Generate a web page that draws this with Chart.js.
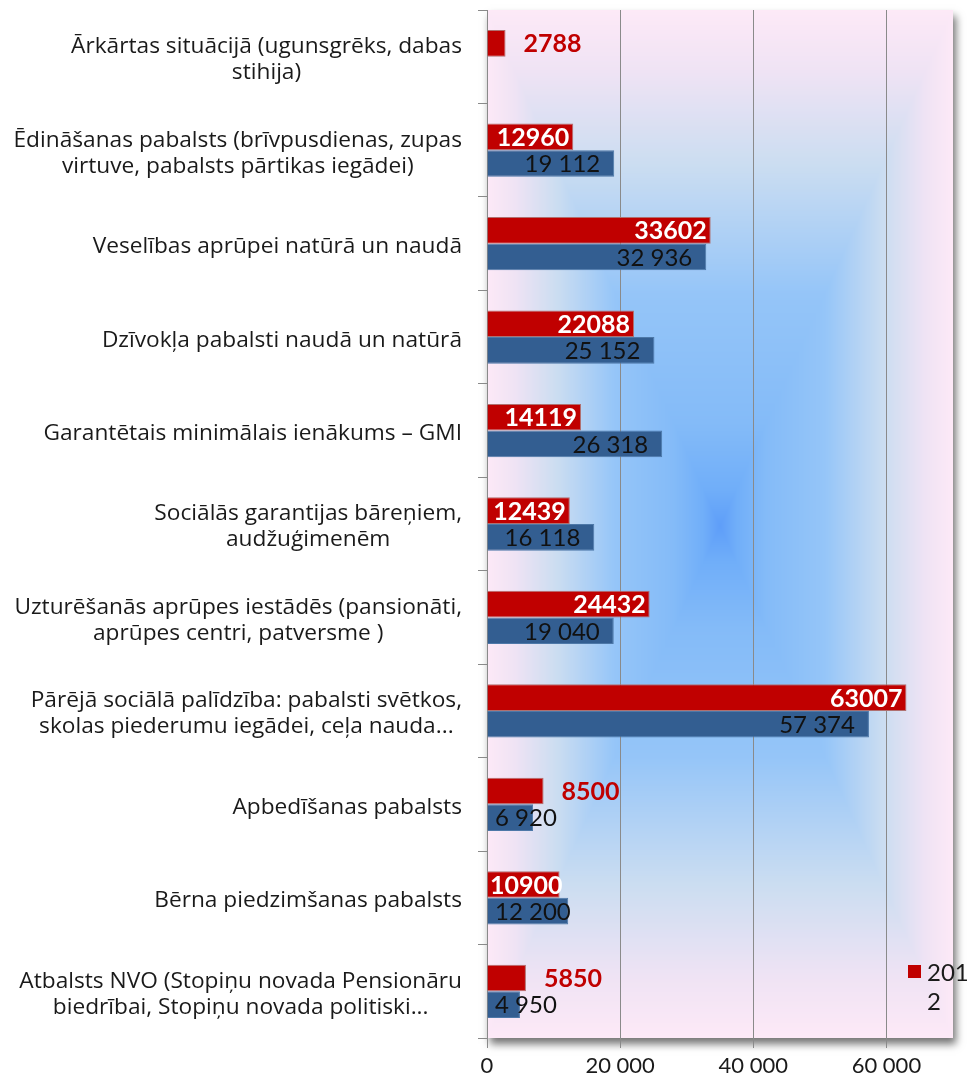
<!DOCTYPE html>
<html>
<head>
<meta charset="utf-8">
<script src="https://cdn.jsdelivr.net/npm/chart.js@4.4.1/dist/chart.umd.min.js"></script>
<style>
html,body{margin:0;padding:0;background:#fff;}
#wrap{width:967px;height:1083px;position:relative;}
</style>
</head>
<body>
<div id="wrap"><canvas id="c" width="967" height="1083"></canvas></div>
<script>
const categories = [
  ["Ārkārtas situācijā (ugunsgrēks, dabas", "stihija)"],
  ["Ēdināšanas pabalsts (brīvpusdienas, zupas", "virtuve, pabalsts pārtikas iegādei)"],
  ["Veselības aprūpei natūrā un naudā"],
  ["Dzīvokļa pabalsti naudā un natūrā"],
  ["Garantētais minimālais ienākums – GMI"],
  ["Sociālās garantijas bāreņiem,", "audžuģimenēm"],
  ["Uzturēšanās aprūpes iestādēs (pansionāti,", "aprūpes centri, patversme )"],
  ["Pārējā sociālā palīdzība: pabalsti svētkos,", "skolas piederumu iegādei, ceļa nauda..."],
  ["Apbedīšanas pabalsts"],
  ["Bērna piedzimšanas pabalsts"],
  ["Atbalsts NVO (Stopiņu novada Pensionāru", "biedrībai, Stopiņu novada politiski..."]
];
const series2012 = [2788, 12960, 33602, 22088, 14119, 12439, 24432, 63007, 8500, 10900, 5850];
const series2011 = [null, 19112, 32936, 25152, 26318, 16118, 19040, 57374, 6920, 12200, 4950];
const seriesNames = ["2012", "2011"];
const xTicks = [0, 20000, 40000, 60000];

const FONT = "Lato, 'Open Sans', sans-serif";
const CATFONT = "'Open Sans', Lato, sans-serif";
const RED = "#c00000";
const BLUE = "#335e91";

function fmtSpace(v){ return String(v).replace(/\B(?=(\d{3})+(?!\d))/g, " "); }

function hex(c){ return [parseInt(c.slice(1,3),16), parseInt(c.slice(3,5),16), parseInt(c.slice(5,7),16)]; }

const bgPlugin = {
  id: 'bg',
  beforeDraw(chart){
    const ctx = chart.ctx, a = chart.chartArea;
    const L=Math.round(a.left), T=Math.round(a.top), R=Math.round(a.right), B=Math.round(a.bottom);
    const cx = chart.scales.x.getPixelForValue(35000);
    const cy = (T+B)/2 + 2;
    ctx.save();
    ctx.shadowColor = 'rgba(0,0,0,0.55)';
    ctx.shadowBlur = 8;
    ctx.shadowOffsetX = 3;
    ctx.shadowOffsetY = 6;
    ctx.fillStyle = '#fde9f6';
    ctx.fillRect(L, T, R-L, B-T);
    ctx.restore();
    const stops = [[0,'#fde9f7'],[0.12,'#efe3f4'],[0.3,'#cbddf1'],[0.55,'#95c5f8'],[0.8,'#84bbf8'],[0.93,'#70aef9'],[1,'#5e9ef9']].map(s=>[s[0],hex(s[1])]);
    function col(t){
      for (let k=1;k<stops.length;k++){
        if (t <= stops[k][0]){
          const a0=stops[k-1], a1=stops[k];
          const f=(t-a0[0])/(a1[0]-a0[0]);
          return [0,1,2].map(j=>a0[1][j]+(a1[1][j]-a0[1][j])*f);
        }
      }
      return stops[stops.length-1][1];
    }
    const W=R-L, H=B-T;
    const img = ctx.createImageData(W, H);
    const d = img.data;
    for (let y=0;y<H;y++){
      const py=T+y+0.5;
      const dy = py<cy ? (cy-py)/(cy-T) : (py-cy)/(B-cy);
      for (let x=0;x<W;x++){
        const px=L+x+0.5;
        const dx = px<cx ? (cx-px)/(cx-L) : (px-cx)/(R-cx);
        const t = 1 - Math.min(1, Math.max(dx, dy));
        const c = col(t);
        const o=(y*W+x)*4;
        d[o]=c[0]; d[o+1]=c[1]; d[o+2]=c[2]; d[o+3]=255;
      }
    }
    ctx.putImageData(img, L, T);
  }
};

const labelPlugin = {
  id: 'labels',
  afterDatasetsDraw(chart){
    const ctx = chart.ctx;
    const x0 = chart.scales.x.getPixelForValue(0);
    ctx.save();
    ctx.textBaseline = 'middle';
    chart.getDatasetMeta(0).data.forEach((bar, i) => {
      const v = series2012[i];
      if (v == null) return;
      ctx.font = "bold 25px " + FONT;
      const t = String(v);
      const w = ctx.measureText(t).width;
      ctx.textAlign = 'left';
      if (v < 9000) {
        ctx.fillStyle = RED;
        ctx.fillText(t, bar.x + 18, bar.y + 1);
      } else {
        ctx.fillStyle = '#ffffff';
        let x = bar.x - 4 - w;
        if (x < x0 + 3) x = x0 + 3;
        ctx.fillText(t, x, bar.y + 1);
      }
    });
    chart.getDatasetMeta(1).data.forEach((bar, i) => {
      const v = series2011[i];
      if (v == null) return;
      ctx.font = "24px " + FONT;
      const t = fmtSpace(v);
      const w = ctx.measureText(t).width;
      ctx.fillStyle = '#111';
      ctx.textAlign = 'left';
      let x = bar.x - 14 - w;
      if (x < x0 + 8) x = x0 + 8;
      ctx.fillText(t, x, bar.y + 1);
    });
    ctx.restore();
  },
  afterDraw(chart){
    const ctx = chart.ctx;
    const ys = chart.scales.y;
    ctx.save();
    ctx.font = "22.7px " + CATFONT;
    ctx.fillStyle = '#1a1a1a';
    ctx.textBaseline = 'middle';
    ctx.textAlign = 'center';
    const right = 462, lh = 26;
    categories.forEach((lines, i) => {
      const yc = ys.getPixelForValue(i) + 3;
      const bw = Math.max(...lines.map(l => ctx.measureText(l).width));
      const xc = right - bw/2;
      const y0 = yc - (lines.length-1)*lh/2;
      lines.forEach((l, k) => ctx.fillText(l, xc, y0 + k*lh));
    });
    const name = seriesNames[0];
    ctx.fillStyle = RED;
    ctx.fillRect(908, 965, 13, 13);
    ctx.font = "24px " + FONT;
    ctx.fillStyle = '#1a1a1a';
    ctx.textAlign = 'left';
    ctx.fillText(name.slice(0,3), 927, 973);
    ctx.fillText(name.slice(3), 927, 1002);
    ctx.restore();
  }
};

new Chart(document.getElementById('c'), {
  type: 'bar',
  data: {
    labels: categories.map(l => l.join(' ')),
    datasets: [
      { label: seriesNames[0], data: series2012, backgroundColor: RED, borderColor: '#b07070', borderWidth: 1,
        barPercentage: 1.0, categoryPercentage: 0.57 },
      { label: seriesNames[1], data: series2011, backgroundColor: BLUE, borderColor: '#4d78a8', borderWidth: 1,
        barPercentage: 1.0, categoryPercentage: 0.57 }
    ]
  },
  options: {
    indexAxis: 'y',
    responsive: false,
    animation: false,
    layout: { padding: { top: 10, right: 14, left: 0, bottom: 0 } },
    plugins: { legend: { display: false }, tooltip: { enabled: false } },
    scales: {
      x: {
        min: 0, max: 70000,
        afterBuildTicks(s){ s.ticks = xTicks.map(v => ({ value: v })); },
        afterFit(s){ s.height = 45; },
        grid: { color: '#8a8a8a', lineWidth: 1, tickLength: 10, drawTicks: true, tickColor: '#8a8a8a' },
        border: { display: false },
        ticks: {
          font: { family: FONT, size: 22 }, color: '#1a1a1a', padding: 5,
          callback: v => fmtSpace(v), maxRotation: 0
        }
      },
      y: {
        afterFit(s){ s.width = 487; },
        grid: { offset: true, drawOnChartArea: false, drawTicks: true, tickLength: 9, color: '#8a8a8a' },
        border: { display: true, color: '#8a8a8a' },
        ticks: { display: false }
      }
    }
  },
  plugins: [bgPlugin, labelPlugin]
});
</script>
</body>
</html>
